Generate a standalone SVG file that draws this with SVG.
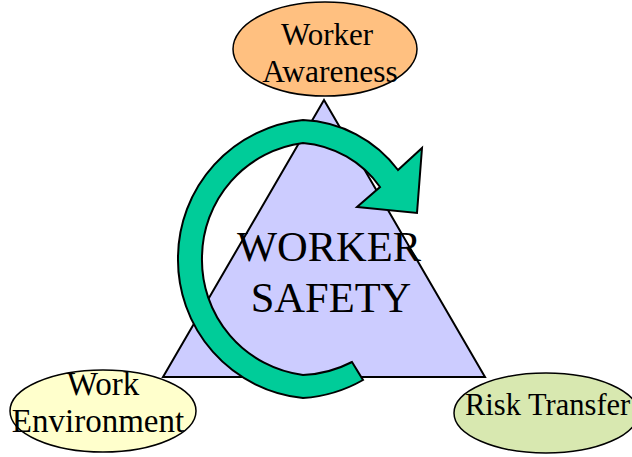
<svg xmlns="http://www.w3.org/2000/svg" width="632" height="457" viewBox="0 0 632 457">
<style>
.lbl{font-family:"Liberation Serif","Times New Roman",serif;font-size:32px;fill:#000}
.big{font-family:"Liberation Serif","Times New Roman",serif;font-size:42.5px;fill:#000}
.node{stroke:#000;stroke-width:1.5}
</style>
<rect width="632" height="457" fill="#fff"/>
<g id="triangle">
<polygon points="324,100 485,377 163,377" fill="#CCCCFF" stroke="#000" stroke-width="2"/>
</g>
<g id="worker-awareness">
<ellipse class="node" cx="325" cy="49" rx="92" ry="47" fill="#FFC080"/>
<text class="lbl" x="327" y="45" text-anchor="middle" style="font-size:31px">Worker</text>
<text class="lbl" x="330" y="82" text-anchor="middle" style="font-size:31.5px">Awareness</text>
</g>
<g id="work-environment">
<ellipse class="node" cx="103" cy="411" rx="93" ry="41" fill="#FFFFCC"/>
<text class="lbl" x="103" y="395" text-anchor="middle" style="font-size:33px">Work</text>
<text class="lbl" x="98" y="432" text-anchor="middle" style="font-size:33px">Environment</text>
</g>
<g id="risk-transfer">
<ellipse class="node" cx="546" cy="413" rx="92" ry="40" fill="#D8E8B0"/>
<text class="lbl" x="465" y="415" style="font-size:30.5px">Risk Transfer</text>
</g>
<g id="connectors">
<path d="M363,380 A139,139 0 0 1 303,398 A139,139 0 0 1 178,257 A139,139 0 0 1 303,120 A125,125 0 0 1 398,170 L422,148 L417,213 L357,207 L380,187 A105,105 0 0 0 303,143 A116,116 0 0 0 202,257 A116,116 0 0 0 303,375 A116,116 0 0 0 352,362 Z" fill="#00CC99" stroke="#000" stroke-width="2" stroke-linejoin="miter"/>
</g>
<g id="worker-safety">
<text class="big" x="329" y="261" text-anchor="middle">WORKER</text>
<text class="big" x="331" y="312" text-anchor="middle">SAFETY</text>
</g>
</svg>
